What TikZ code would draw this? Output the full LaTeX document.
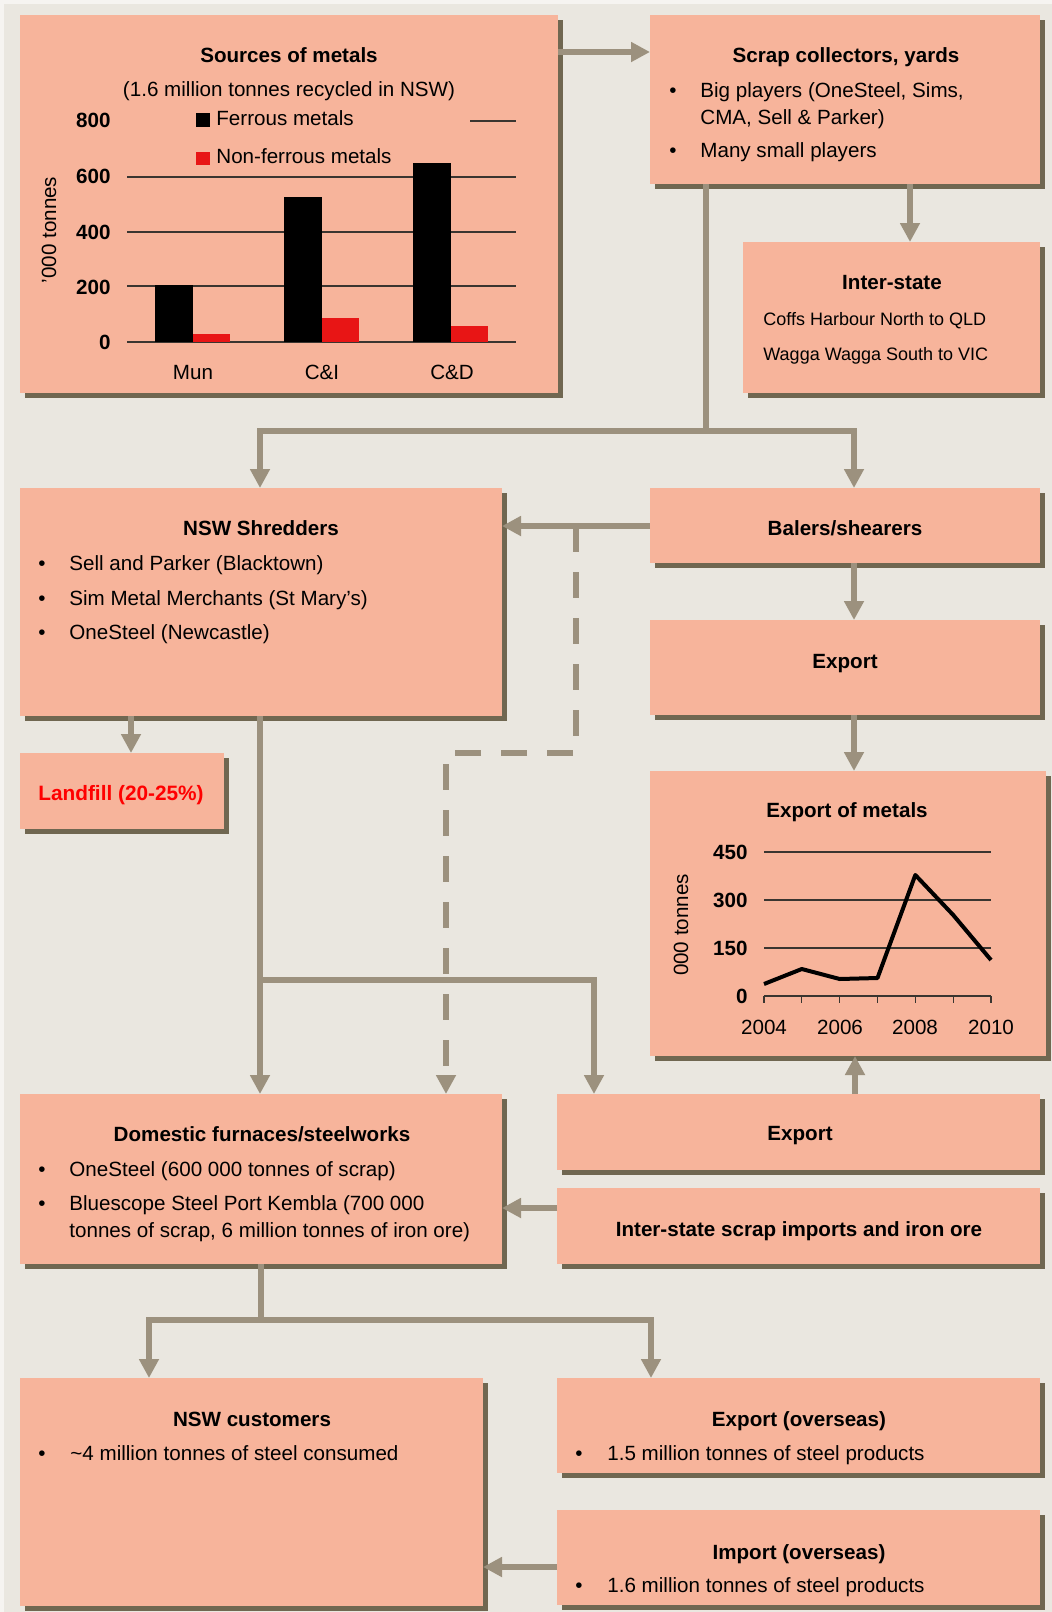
\documentclass[tikz,border=0pt]{standalone}
\usepackage{fontspec}
\setmainfont{Liberation Sans}
\usetikzlibrary{arrows.meta,shadows}
\definecolor{bgc}{HTML}{EAE7E0}
\definecolor{edgec}{HTML}{F6F4F1}
\definecolor{boxc}{HTML}{F7B49B}
\definecolor{shadc}{HTML}{706751}
\definecolor{linec}{HTML}{9C917E}
\definecolor{barred}{HTML}{E81515}
\definecolor{gridc}{HTML}{3A3530}
\newcommand\mybox[5]{\node[box, minimum width={(#4-#2)*0.5pt}, minimum height={(#5-#3)*0.5pt}] (#1) at (#2,#3) {};}
\begin{document}
\begin{tikzpicture}[x=0.5pt,y=-0.5pt,
  every node/.style={font=\fontsize{10.3}{12}\selectfont},
  box/.style={fill=boxc, draw=none, inner sep=0pt, outer sep=0pt, anchor=north west,
    general shadow={fill=shadc, shadow xshift=2.4pt, shadow yshift=-2.6pt}},
  txt/.style={inner sep=0pt, text height=0.72em, text depth=0pt},
  ttl/.style={txt, font=\fontsize{10.3}{12}\selectfont\bfseries},
  small/.style={txt, font=\fontsize{9}{11}\selectfont},
  conn/.style={draw=linec, line width=3pt},
  arr/.style={conn, -{Triangle[width=9.5pt,length=9.5pt]}},
  dsh/.style={arr, dash pattern=on 13pt off 10pt},
  grid/.style={draw=gridc, line width=0.6pt},
]
\fill[edgec] (0,0) rectangle (1052,1612);
\fill[bgc] (4,4) rectangle (1052,1612);
\useasboundingbox (0,0) rectangle (1052,1612);

% boxes
\mybox{sources}{20}{15}{558}{393}
\mybox{scrap}{650}{15}{1040}{184}
\mybox{inter}{743}{242}{1040}{393}
\mybox{shred}{20}{488}{502}{716}
\mybox{balers}{650}{488}{1040}{563}
\mybox{expa}{650}{620}{1040}{715}
\mybox{landfill}{20}{753}{224}{829}
\mybox{expm}{650}{771}{1046}{1056}
\mybox{dom}{20}{1094}{502}{1264}
\mybox{expb}{557}{1094}{1040}{1170}
\mybox{isimp}{557}{1188}{1040}{1264}
\mybox{cust}{20}{1378}{483}{1606}
\mybox{expo}{557}{1378}{1040}{1473}
\mybox{impo}{557}{1510}{1040}{1605}

% connectors
\draw[arr] (sources.east |- 0,52) -- (scrap.west |- 0,52);
\draw[arr] (scrap.south -| 910,0) -- (inter.north -| 910,0);
\coordinate (j1) at (706,431);
\draw[conn] (scrap.south -| j1) -- (j1);
\draw[arr] (j1) -| (shred.north -| 260,0);
\draw[arr] (j1) -| (balers.north -| 854,0);
\draw[arr] (balers.west |- 0,526) -- (shred.east |- 0,526);
\coordinate (d0) at (576,526);
\coordinate (d1) at (446,753);
\draw[dsh] (d0) |- (d1) -- (dom.north -| d1);
\draw[arr] (balers.south -| 854,0) -- (expa.north -| 854,0);
\draw[arr] (expa.south -| 854,0) -- (expm.north -| 854,0);
\draw[arr] (shred.south -| 131,0) -- (landfill.north -| 131,0);
\draw[arr] (shred.south -| 260,0) -- (dom.north -| 260,0);
\coordinate (j2) at (260,980);
\draw[arr] (j2) -| (expb.north -| 594,0);
\draw[arr] (expb.north -| 855,0) -- (expm.south -| 855,0);
\draw[arr] (isimp.west |- 0,1208) -- (dom.east |- 0,1208);
\coordinate (j3) at (261,1320);
\draw[conn] (dom.south -| j3) -- (j3);
\draw[arr] (j3) -| (cust.north -| 149,0);
\draw[arr] (j3) -| (expo.north -| 651,0);
\draw[arr] (impo.west |- 0,1567) -- (cust.east |- 0,1567);

% Sources chart
\node[ttl] (srct) at (289,55) {Sources of metals};
\node[txt] (srcs) at (289,89) {(1.6 million tonnes recycled in NSW)};
\draw[grid] (470,121) -- (516,121);
\foreach \yy in {177,232,286,342} \draw[grid] (127,\yy) -- (516,\yy);
\fill[black] (155,342) rectangle (193,285);
\fill[barred] (193,342) rectangle (230,334);
\fill[black] (284,342) rectangle (322,197);
\fill[barred] (322,342) rectangle (359,318);
\fill[black] (413,342) rectangle (451,163);
\fill[barred] (451,342) rectangle (488,326);
\node[ttl, anchor=east] (ya) at (111,120) {800};
\node[ttl, anchor=east] (yb) at (111,176) {600};
\node[ttl, anchor=east] (yc) at (111,232) {400};
\node[ttl, anchor=east] (yd) at (111,287) {200};
\node[ttl, anchor=east] (ye) at (111,342) {0};
\node[txt, rotate=90] (ylab) at (49,230) {'000 tonnes};
\node[txt] (cmun) at (193,372) {Mun};
\node[txt] (cci) at (322,372) {C\&I};
\node[txt] (ccd) at (452,372) {C\&D};
\fill[black] (196,113) rectangle (210,127);
\fill[barred] (196,152) rectangle (210,165);
\node[txt, anchor=west] (lga) at (216,118) {Ferrous metals};
\node[txt, anchor=west] (lgb) at (216,156) {Non-ferrous metals};

% Scrap collectors
\node[ttl] (scrt) at (846,55) {Scrap collectors, yards};
\node[txt] (sb1) at (673,90) {•};
\node[txt, anchor=west] (sl1) at (700,90) {Big players (OneSteel, Sims,};
\node[txt, anchor=west] (sl2) at (700,117) {CMA, Sell \& Parker)};
\node[txt] (sb2) at (673,150) {•};
\node[txt, anchor=west] (sl3) at (700,150) {Many small players};

% Inter-state
\node[ttl] (intt) at (892,282) {Inter-state};
\node[small, anchor=west] (il1) at (763,318) {Coffs Harbour North to QLD};
\node[small, anchor=west] (il2) at (763,353) {Wagga Wagga South to VIC};

% Shredders
\node[ttl] (shrt) at (261,528) {NSW Shredders};
\node[txt] (hb1) at (42,563) {•};
\node[txt, anchor=west] (hl1) at (69,563) {Sell and Parker (Blacktown)};
\node[txt] (hb2) at (42,598) {•};
\node[txt, anchor=west] (hl2) at (69,598) {Sim Metal Merchants (St Mary’s)};
\node[txt] (hb3) at (42,632) {•};
\node[txt, anchor=west] (hl3) at (69,632) {OneSteel (Newcastle)};

% Balers, export
\node[ttl] (balt) at (845,528) {Balers/shearers};
\node[ttl] (expat) at (845,661) {Export};
\node[ttl, text=red, font=\fontsize{10.4}{12}\selectfont\bfseries] (lft) at (121,793) {Landfill (20-25\%)};

% Export of metals chart
\node[ttl] (emt) at (847,810) {Export of metals};
\foreach \yy in {852,900,948,996} \draw[grid] (764,\yy) -- (991,\yy);
\foreach \xx in {764,801.8,839.7,877.5,915.3,953.2,991} \draw[grid] (\xx,996) -- (\xx,1003);
\draw[black, line width=2pt, line join=round] (764,984) -- (801.8,969) -- (839.7,979) -- (877.5,978) -- (915.3,875) -- (953.2,915) -- (991,960);
\node[ttl, anchor=east] (ea) at (748,852) {450};
\node[ttl, anchor=east] (eb) at (748,900) {300};
\node[ttl, anchor=east] (ec) at (748,948) {150};
\node[ttl, anchor=east] (ed) at (748,996) {0};
\node[txt, rotate=90] (elab) at (681,925) {000 tonnes};
\node[txt] (e04) at (764,1027) {2004};
\node[txt] (e06) at (840,1027) {2006};
\node[txt] (e08) at (915,1027) {2008};
\node[txt] (e10) at (991,1027) {2010};

% Domestic
\node[ttl] (domt) at (262,1134) {Domestic furnaces/steelworks};
\node[txt] (db1) at (42,1169) {•};
\node[txt, anchor=west] (dl1) at (69,1169) {OneSteel (600 000 tonnes of scrap)};
\node[txt] (db2) at (42,1203) {•};
\node[txt, anchor=west] (dl2) at (69,1203) {Bluescope Steel Port Kembla (700 000};
\node[txt, anchor=west] (dl3) at (69,1230) {tonnes of scrap, 6 million tonnes of iron ore)};

\node[ttl] (expbt) at (800,1133) {Export};
\node[ttl] (isimpt) at (799,1229) {Inter-state scrap imports and iron ore};

% bottom
\node[ttl] (custt) at (252,1419) {NSW customers};
\node[txt] (cb1) at (42,1453) {•};
\node[txt, anchor=west] (cl1) at (70,1453) {\textasciitilde4 million tonnes of steel consumed};
\node[ttl] (expot) at (799,1419) {Export (overseas)};
\node[txt] (ob1) at (579,1453) {•};
\node[txt, anchor=west] (ol1) at (607,1453) {1.5 million tonnes of steel products};
\node[ttl] (impot) at (799,1552) {Import (overseas)};
\node[txt] (mb1) at (579,1585) {•};
\node[txt, anchor=west] (ml1) at (607,1585) {1.6 million tonnes of steel products};
\end{tikzpicture}
\end{document}
